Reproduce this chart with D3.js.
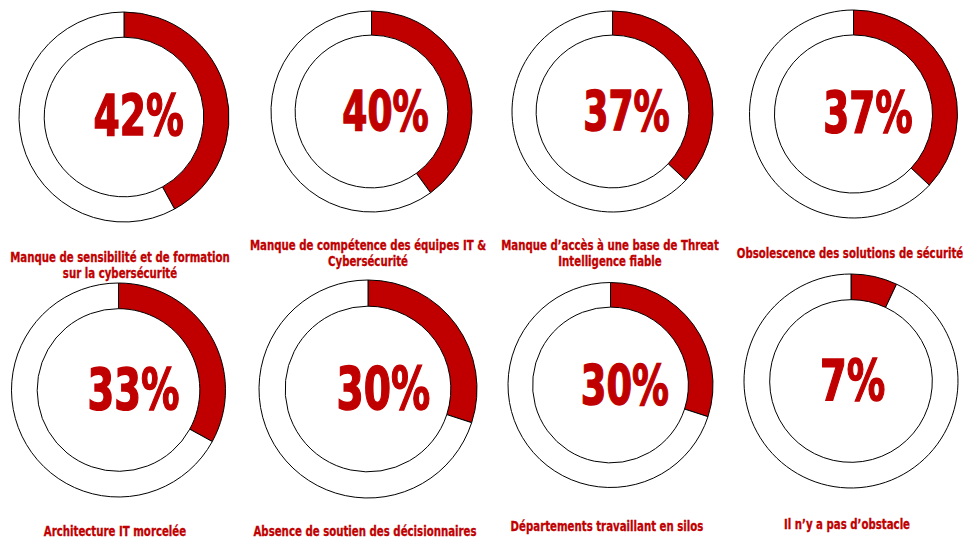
<!DOCTYPE html>
<html>
<head>
<meta charset="utf-8">
<script src="https://cdn.jsdelivr.net/npm/d3@7"></script>
<style>
  html, body { margin: 0; padding: 0; background: #fff; }
  svg { display: block; }
  .pct { font-family: "DejaVu Sans Condensed", "DejaVu Sans", sans-serif; font-weight: bold; fill: #c00000; stroke: #c00000; stroke-width: 1.4; }
  .lbl { font-family: "DejaVu Sans Condensed", "DejaVu Sans", sans-serif; font-weight: bold; fill: #c00000; stroke: #c00000; stroke-width: 0.3; }
</style>
</head>
<body>
<svg id="chart" width="963" height="539"></svg>
<script>
// obstacles (one donut each)
const categories = [
    ["Manque de sensibilité et de formation", "sur la cybersécurité"],
    ["Manque de compétence des équipes IT &", "Cybersécurité"],
    ["Manque d’accès à une base de Threat", "Intelligence fiable"],
    ["Obsolescence des solutions de sécurité"],
    ["Architecture IT morcelée"],
    ["Absence de soutien des décisionnaires"],
    ["Départements travaillant en silos"],
    ["Il n’y a pas d’obstacle"]
];
const values = [42, 40, 37, 37, 33, 30, 30, 7];

// where each donut sits (cx, cy, outer radius) and where its title goes
const layout = [
    { cx: 124,   cy: 117,   r: 105,   lx: 120, ly: 262 },
    { cx: 371.5, cy: 111.5, r: 100.5, lx: 368, ly: 250 },
    { cx: 612.5, cy: 111.5, r: 100.5, lx: 610, ly: 250 },
    { cx: 853.5, cy: 114,   r: 104,   lx: 850, ly: 258 },
    { cx: 118.5, cy: 390,   r: 107,   lx: 115, ly: 536 },
    { cx: 368,   cy: 389,   r: 109,   lx: 365, ly: 536 },
    { cx: 610.5, cy: 385,   r: 102.5, lx: 607, ly: 531 },
    { cx: 851,   cy: 381,   r: 107,   lx: 847, ly: 529 }
];

document.addEventListener("DOMContentLoaded", function() {
    const svg = d3.select("#chart");
    const red = "#c00000";

    const pie = d3.pie().sort(null).value(d => d);

    function createDonut(i) {
        const pos = layout[i];
        const v = values[i];
        const g = svg.append("g")
            .attr("transform", `translate(${pos.cx},${pos.cy})`);

        const arc = d3.arc()
            .innerRadius(pos.r * 0.76)
            .outerRadius(pos.r);

        g.selectAll("path")
            .data(pie([v, 100 - v]))
            .join("path")
            .attr("d", arc)
            .attr("fill", (d, j) => j === 0 ? red : "#fff")
            .attr("stroke", "#000")
            .attr("stroke-width", 1);

        // condensed look: squeeze the bold face horizontally
        g.append("text")
            .attr("class", "pct")
            .attr("transform", `translate(${-pos.r * 0.29},${pos.r * 0.185}) scale(0.74,1)`)
            .attr("font-size", pos.r * 0.54)
            .text(v + "%");

        const lbl = svg.append("text")
            .attr("class", "lbl")
            .attr("text-anchor", "middle")
            .attr("transform", `translate(${pos.lx},${pos.ly}) scale(0.84,1)`)
            .attr("font-size", 13.5);
        categories[i].forEach((line, k) => {
            lbl.append("tspan")
                .attr("x", 0)
                .attr("y", k * 16.5)
                .text(line);
        });
    }

    values.forEach((v, i) => createDonut(i));
});
</script>
</body>
</html>
